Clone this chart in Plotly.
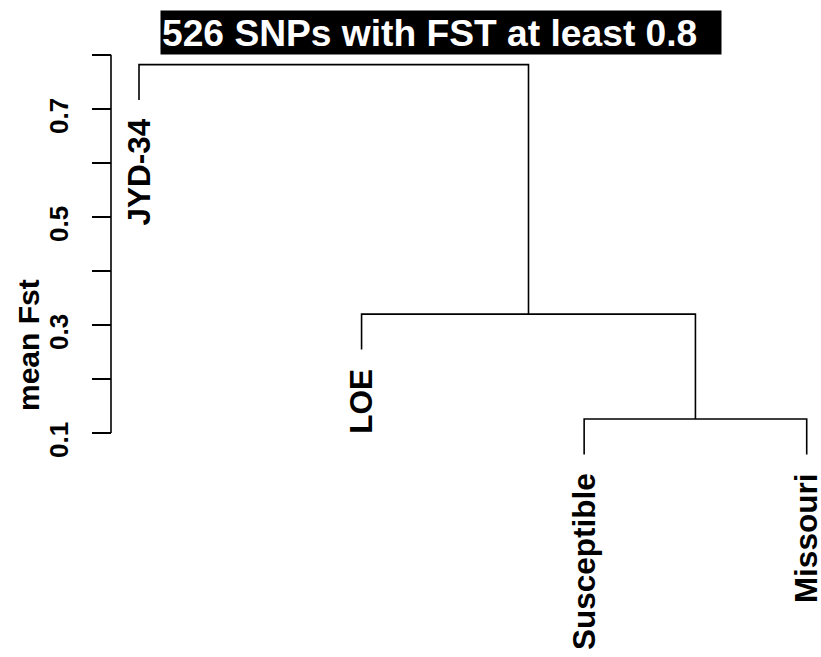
import plotly.graph_objects as go

# ---- data ----
leaf_labels = ["JYD-34", "LOE", "Susceptible", "Missouri"]
merge_left = ["Susceptible", "LOE", "JYD-34"]   # leaf label or index of earlier merge
merge_right = ["Missouri", 0, 1]
merge_heights = [0.126, 0.320, 0.782]
hang = 0.1
y_tick_vals = [0.1, 0.2, 0.3, 0.4, 0.5, 0.6, 0.7, 0.8]
y_tick_text = ["0.1", "", "0.3", "", "0.5", "", "0.7", ""]
title_text = "526 SNPs with FST at least 0.8"
y_label = "mean Fst"

# ---- dendrogram geometry ----
hang_len = hang * (max(merge_heights) - min(merge_heights))
leaf_x = {lab: i + 1 for i, lab in enumerate(leaf_labels)}
node_x, node_h = {}, {}
leaf_end = {}
xs, ys = [], []


def child_pos(c, h):
    if isinstance(c, int):
        return node_x[c], node_h[c]
    y0 = h - hang_len
    leaf_end[c] = y0
    return leaf_x[c], y0


for k, (a, b, h) in enumerate(zip(merge_left, merge_right, merge_heights)):
    xa, ya = child_pos(a, h)
    xb, yb = child_pos(b, h)
    xs += [xa, xa, xb, xb, None]
    ys += [ya, h, h, yb, None]
    node_x[k] = (xa + xb) / 2
    node_h[k] = h

FONT = "Liberation Sans, Arial, sans-serif"

fig = go.Figure()
fig.add_trace(go.Scatter(x=xs, y=ys, mode="lines",
                         line=dict(color="black", width=1.6),
                         hoverinfo="skip", showlegend=False))

# leaf labels
for lab in leaf_labels:
    fig.add_annotation(x=leaf_x[lab], y=leaf_end[lab], xref="x", yref="y",
                       text=lab, textangle=-90, showarrow=False, borderpad=0,
                       xanchor="center", yanchor="top", yshift=-18,
                       font=dict(family=FONT, size=31.5, color="black", weight="bold"))

# y range like R (4% padding)
lo = min(leaf_end.values())
hi = max(merge_heights)
pad = 0.04 * (hi - lo)
y_range = [lo - pad, hi + pad]

W, H = 821, 657
ML, MR, MT, MB = 112, 0, 49, 187
pw, ph = W - ML - MR, H - MT - MB


def px_to_paper_x(px):
    return (px - ML) / pw


def px_to_paper_y(py):
    return (H - MB - py) / ph


# y axis line (only spanning tick range)
fig.add_shape(type="line", xref="paper", yref="y",
              x0=px_to_paper_x(111), x1=px_to_paper_x(111),
              y0=y_tick_vals[0], y1=y_tick_vals[-1],
              line=dict(color="black", width=1.6))

# title with black background
fig.add_annotation(x=px_to_paper_x(160), y=px_to_paper_y(10), xref="paper", yref="paper",
                   text=title_text, showarrow=False, xanchor="left", yanchor="top",
                   align="left", valign="middle", width=558, height=41, borderpad=1,
                   bgcolor="black",
                   font=dict(family=FONT, size=37.2, color="white", weight="bold"))

# y label
fig.add_annotation(x=px_to_paper_x(28), y=px_to_paper_y(345), xref="paper", yref="paper",
                   text=y_label, textangle=-90, showarrow=False,
                   xanchor="center", yanchor="middle",
                   font=dict(family=FONT, size=30, color="black", weight="bold"))

NB = "\u00a0"
fig.update_layout(
    width=W, height=H,
    margin=dict(l=ML, r=MR, t=MT, b=MB, pad=0),
    paper_bgcolor="white", plot_bgcolor="white",
    showlegend=False,
    xaxis=dict(range=[1 - 0.1213, len(leaf_labels) + 0.0642], visible=False,
               showgrid=False, zeroline=False),
    yaxis=dict(range=y_range, tickmode="array", tickvals=y_tick_vals,
               ticktext=[t + NB * 3 if t else t for t in y_tick_text],
               ticks="outside", ticklen=19, tickwidth=1.6, tickcolor="black",
               showline=False, showgrid=False, zeroline=False,
               tickangle=-90, ticklabelstandoff=14,
               tickfont=dict(family=FONT, size=26, color="black", weight="bold")),
)

fig.write_html("out.html", config={"displayModeBar": False},
               post_script="document.body.style.margin='0';document.body.style.overflow='hidden';")
